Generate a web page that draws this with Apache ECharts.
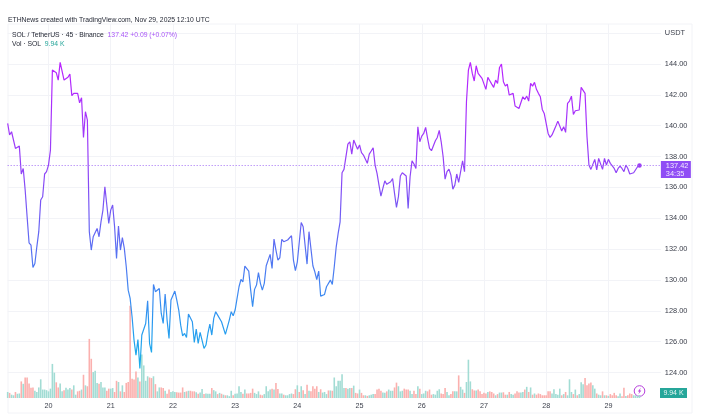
<!DOCTYPE html>
<html>
<head>
<meta charset="utf-8">
<title>SOL / TetherUS</title>
<script src="https://cdn.jsdelivr.net/npm/echarts@6/dist/echarts.min.js"></script>
<style>
  html, body { margin: 0; padding: 0; background: #fff; }
  #main { width: 705px; height: 420px; }
</style>
</head>
<body>
<div id="main"></div>
<script>
// 45 minute bars, 32 per day
var barsPerDay = 32;
var firstDayBar = 21;
var totalBars = 337;
var dayLabels = ['20', '21', '22', '23', '24', '25', '26', '27', '28', '29'];
var priceTicks = [124, 126, 128, 130, 132, 134, 136, 138, 140, 142, 144];

var lastPrice = 137.42;
var lastVolume = '9.94 K';

var prices = [
  140.15,139.40,139.61,139.66,138.53,138.62,138.68,136.87,137.23,135.83,
  134.10,132.41,132.26,130.81,131.07,132.15,133.13,135.18,135.40,136.87,
  137.02,137.45,138.42,143.61,143.61,143.44,142.96,144.11,144.11,142.96,
  143.05,143.14,143.35,141.95,142.10,142.14,142.10,141.49,141.82,139.24,
  140.91,140.37,133.13,131.94,132.80,132.85,133.34,132.80,133.77,134.53,
  136.04,134.86,133.67,134.53,134.86,133.45,131.40,133.50,131.94,132.74,
  132.05,130.86,129.34,128.80,127.60,126.10,125.13,126.14,124.26,126.43,
  126.47,127.18,128.65,125.88,125.30,129.71,129.24,129.24,129.45,127.83,
  127.18,129.08,127.40,126.21,128.70,128.70,129.28,128.70,128.05,127.07,
  126.38,126.53,126.27,127.79,127.72,127.29,125.95,126.81,125.88,126.60,
  126.68,125.56,125.78,126.53,127.14,126.43,127.51,127.94,127.72,127.77,
  127.29,127.40,126.47,126.47,127.40,127.94,127.68,128.05,128.80,129.56,
  130.03,129.88,130.90,130.81,130.58,129.34,128.26,129.39,129.67,130.47,
  129.78,129.34,129.78,130.92,131.01,131.66,130.75,132.65,131.94,131.29,
  131.44,132.63,132.48,132.48,132.59,132.63,132.87,131.29,130.60,131.18,
  131.12,133.73,133.45,133.49,131.03,133.13,133.02,130.92,130.53,130.03,
  130.58,128.95,129.06,129.06,129.56,129.52,129.99,129.71,130.86,132.15,
  133.02,133.77,136.95,137.17,137.13,138.81,138.96,138.16,139.07,139.03,
  138.47,138.75,138.25,138.10,138.14,137.56,138.16,138.36,138.57,137.45,
  136.91,136.15,135.44,135.94,136.43,136.20,136.28,136.37,136.58,135.61,
  134.70,135.40,136.74,136.95,136.91,136.74,134.64,136.69,137.73,137.52,
  137.23,139.93,138.96,139.33,139.50,139.89,139.18,138.53,138.38,138.42,
  139.03,139.24,139.70,138.96,137.99,136.54,137.02,137.19,136.80,135.89,
  136.15,136.87,136.33,136.37,137.73,137.02,141.56,143.61,144.11,143.39,
  142.90,143.89,143.39,143.29,143.07,143.03,142.36,143.14,142.92,142.70,
  142.49,142.96,142.75,143.78,144.00,142.85,142.57,142.70,141.99,142.10,
  142.10,141.28,141.23,141.12,141.23,141.88,141.71,141.92,141.60,142.75,
  142.57,142.81,142.36,142.10,141.88,141.06,140.80,140.69,139.50,139.24,
  139.40,139.46,139.98,140.30,140.37,139.66,139.94,139.57,141.45,141.60,
  141.92,140.73,140.97,140.91,141.02,142.49,142.60,142.10,139.29,137.45,
  137.17,137.23,137.82,137.13,137.88,137.88,137.17,137.88,137.45,137.82,
  137.56,137.51,137.23,136.95,137.23,137.38,137.23,137.02,137.45,137.23,
  136.87,136.78,136.95,136.97,137.34,137.42
];

// thousands of SOL
var volumes = [
  20,17,11,9,20,14,15,55,47,68,
  68,48,34,35,24,20,35,62,28,28,
  26,22,31,113,84,52,35,48,22,26,
  34,28,33,28,42,11,22,24,28,77,
  42,39,196,130,86,90,50,47,53,35,
  35,24,31,31,33,20,57,53,22,42,
  20,50,53,306,64,61,88,68,55,144,
  108,57,72,68,66,72,46,22,35,35,
  33,24,14,28,20,22,20,19,18,18,
  35,20,22,24,24,22,22,19,14,18,
  30,13,15,14,14,33,26,22,13,17,
  14,11,9,9,6,24,9,14,15,39,
  20,14,28,15,15,17,31,17,13,22,
  11,9,13,39,22,28,31,28,50,30,
  15,15,11,9,9,13,15,13,29,42,
  20,39,26,13,44,24,22,39,31,39,
  20,29,18,20,13,25,25,24,68,39,
  57,57,79,33,33,31,33,33,41,17,
  15,28,17,9,9,7,9,11,13,13,
  28,31,24,18,17,22,28,24,24,35,
  51,39,22,24,31,28,28,24,13,24,
  13,39,31,13,15,24,22,28,11,13,
  11,24,29,15,13,33,20,9,13,22,
  22,22,75,37,28,17,53,127,55,29,
  25,25,28,22,13,17,15,20,22,20,
  15,9,13,18,18,19,11,11,20,13,
  11,15,22,18,18,20,28,37,20,35,
  11,15,11,15,13,9,9,9,22,22,
  15,29,13,11,31,9,13,20,9,62,
  20,13,28,9,13,52,46,66,42,48,
  51,42,31,15,11,9,22,9,9,7,
  13,9,17,9,6,15,6,34,7,9,
  15,13,9,9,7,9.94
];

var fontName = '"Liberation Sans", Arial, sans-serif';
var upColor = '#a2dcd4';
var downColor = '#fbb0ae';

// axis labels, only the first bar of each day has one
var categories = [];
for (var i = 0; i < totalBars; i++) {
  var d = (i - firstDayBar) / barsPerDay;
  categories.push(d >= 0 && d === Math.floor(d) ? dayLabels[d] : '');
}
function isDayStart(index) {
  return categories[index] !== '';
}

var priceData = prices.map(function (v, i) {
  if (i === prices.length - 1) {
    return { value: v, symbol: 'circle', symbolSize: 4.5, itemStyle: { color: '#9c3df5' } };
  }
  return v;
});

var myChart = echarts.init(document.getElementById('main'));

var option = {
  animation: false,
  backgroundColor: '#fff',
  textStyle: { fontFamily: fontName },
  title: [
    {
      text: 'ETHNews created with TradingView.com, Nov 29, 2025 12:10 UTC',
      left: 8, top: 17, padding: 0,
      textStyle: { fontSize: 6.8, fontWeight: 'normal', color: '#1f2330', fontFamily: fontName }
    },
    {
      text: '{a|SOL / TetherUS · 45 · Binance}  {b|137.42 +0.09 (+0.07%)}\n{a|Vol · SOL}  {c|9.94 K}',
      left: 12, top: 31, padding: 0,
      textStyle: {
        fontSize: 6.8, fontWeight: 'normal', lineHeight: 9, fontFamily: fontName,
        rich: {
          a: { fontSize: 6.8, color: '#1f2330', lineHeight: 9, fontFamily: fontName },
          b: { fontSize: 6.8, color: '#a855f7', lineHeight: 9, fontFamily: fontName },
          c: { fontSize: 6.8, color: '#26a69a', lineHeight: 9, fontFamily: fontName }
        }
      }
    }
  ],
  grid: [
    { left: 7.67, width: 653.2, top: 33.2, height: 339.3 },
    { left: 7.67, width: 653.2, top: 24, height: 374 }
  ],
  xAxis: [
    {
      gridIndex: 0, type: 'category', data: categories, boundaryGap: false, show: false
    },
    {
      gridIndex: 1, type: 'category', data: categories, boundaryGap: false,
      axisLine: { show: false },
      axisTick: { show: false },
      axisLabel: {
        interval: function (index) { return isDayStart(index); },
        hideOverlap: false,
        fontSize: 7.2, color: '#3a3e4a', margin: 5
      },
      splitLine: {
        show: true,
        interval: function (index) { return isDayStart(index); },
        lineStyle: { color: '#f2f3f7', width: 1 }
      }
    }
  ],
  yAxis: [
    {
      gridIndex: 0, type: 'value', position: 'right',
      min: priceTicks[0], max: 146, interval: 2,
      axisLine: { show: false },
      axisTick: { show: false },
      axisLabel: {
        fontSize: 7.4, color: '#3a3e4a', margin: 4,
        formatter: function (v) { return v === 146 ? 'USDT' : v.toFixed(2); }
      },
      splitLine: { show: true, lineStyle: { color: '#f2f3f7', width: 1 } }
    },
    {
      gridIndex: 1, type: 'value', min: 0, max: 1240, show: false, splitLine: { show: false }
    }
  ],
  series: [
    {
      name: 'Vol',
      type: 'bar',
      xAxisIndex: 1, yAxisIndex: 1,
      barWidth: 1.6,
      data: volumes,
      itemStyle: {
        color: function (p) {
          var prev = p.dataIndex > 0 ? prices[p.dataIndex - 1] : prices[0];
          return prices[p.dataIndex] >= prev ? upColor : downColor;
        }
      },
      silent: true
    },
    {
      name: 'SOL',
      type: 'line',
      xAxisIndex: 0, yAxisIndex: 0,
      data: priceData,
      symbol: 'none',
      showAllSymbol: true,
      smooth: false,
      lineStyle: {
        width: 1.2,
        color: new echarts.graphic.LinearGradient(0, 0, 0, 1, [
          { offset: 0, color: '#bb22ff' },
          { offset: 0.35, color: '#9243f7' },
          { offset: 0.6, color: '#5a6ef2' },
          { offset: 0.85, color: '#2a9af0' },
          { offset: 1, color: '#18b0e8' }
        ])
      },
      markLine: {
        silent: true,
        symbol: 'none',
        data: [{ yAxis: lastPrice }],
        lineStyle: { type: [1, 2], color: '#a06df5', width: 1 },
        label: {
          position: 'end',
          distance: 0,
          offset: [0, 4],
          formatter: lastPrice.toFixed(2) + '\n34:35',
          backgroundColor: '#8f4df5',
          color: '#f3ecff',
          fontSize: 7.4,
          lineHeight: 8,
          padding: [0.5, 3, 0.5, 5],
          width: 22
        }
      }
    }
  ],
  graphic: [
    {
      type: 'rect', z: -1, silent: true,
      shape: { x: 8, y: 24, width: 684, height: 389 },
      style: { fill: 'none', stroke: '#f2f3f7', lineWidth: 1 }
    },
    {
      type: 'rect', silent: true,
      shape: { x: 660, y: 388, width: 27, height: 10 },
      style: { fill: '#26a69a' }
    },
    {
      type: 'text', silent: true, x: 673.5, y: 393,
      style: { text: lastVolume, fill: '#e8f6f4', fontSize: 7, fontFamily: fontName, align: 'center', verticalAlign: 'middle' }
    },
    {
      type: 'circle', silent: true,
      shape: { cx: 639.5, cy: 391, r: 5.3 },
      style: { fill: '#fff', stroke: '#b63fdc', lineWidth: 1 }
    },
    {
      type: 'polygon', silent: true,
      shape: { points: [[640.8, 387.8], [637.8, 391.6], [639.4, 391.6], [638.4, 394.2], [641.4, 390.4], [639.8, 390.4]] },
      style: { fill: '#b63fdc' }
    }
  ]
};

myChart.setOption(option);
</script>
</body>
</html>
